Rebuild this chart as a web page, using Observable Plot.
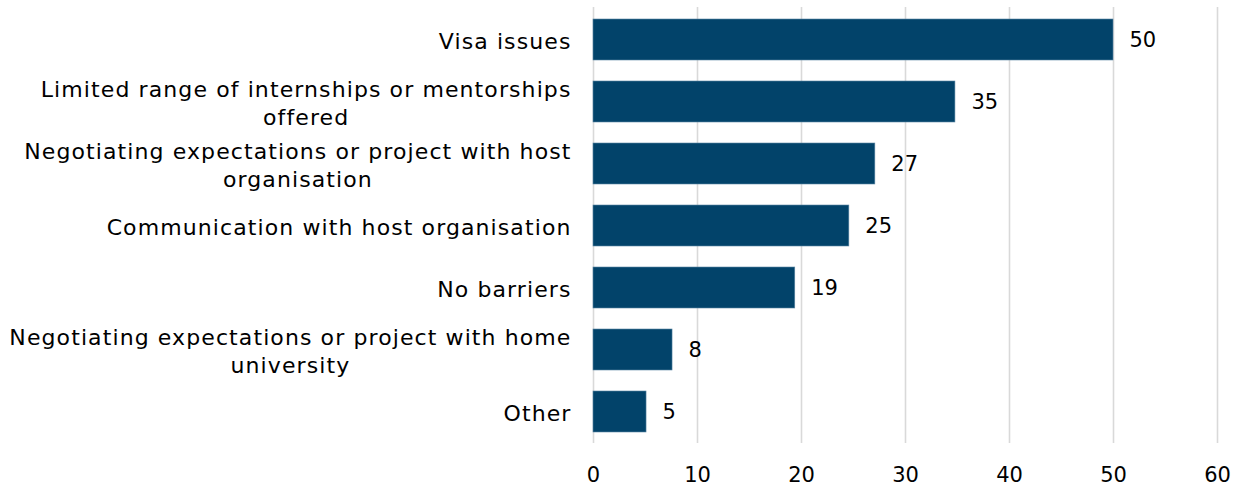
<!DOCTYPE html>
<html>
<head>
<meta charset="utf-8">
<script src="https://cdn.jsdelivr.net/npm/d3@7"></script>
<script src="https://cdn.jsdelivr.net/npm/@observablehq/plot@0.6"></script>
<style>
  html, body { margin: 0; padding: 0; background: #fff; }
  #chart { width: 1247px; height: 489px; }
  g[aria-label="y-axis tick label"] { letter-spacing: 1.1px; }
</style>
</head>
<body>
<div id="chart"></div>
<script>
const categories = [
  "Visa issues",
  "Limited range of internships or mentorships offered",
  "Negotiating expectations or project with host organisation",
  "Communication with host organisation",
  "No barriers",
  "Negotiating expectations or project with home university",
  "Other"
];
const categoryLabels = [
  "Visa issues",
  "Limited range of internships or mentorships\noffered",
  "Negotiating expectations or project with host\norganisation",
  "Communication with host organisation",
  "No barriers",
  "Negotiating expectations or project with home\nuniversity",
  "Other"
];
const values = [50, 34.8, 27.1, 24.6, 19.4, 7.6, 5.1];
const valueLabels = ["50", "35", "27", "25", "19", "8", "5"];
const xTicks = [0, 10, 20, 30, 40, 50, 60];

const data = categories.map((c, i) => ({name: c, value: values[i], label: valueLabels[i]}));
const labelOf = new Map(categories.map((c, i) => [c, categoryLabels[i]]));

const font = "'DejaVu Sans', Verdana, sans-serif";

const chart = Plot.plot({
  width: 1247,
  height: 489,
  marginLeft: 593,
  marginRight: 30,
  marginTop: 7,
  marginBottom: 46,
  style: {fontFamily: font, fontSize: "21px", color: "#000", background: "#fff"},
  x: {domain: [0, 60], ticks: xTicks},
  y: {domain: categories, paddingInner: 0.34, paddingOuter: 0.17},
  marks: [
    Plot.gridX(xTicks, {stroke: "#d9d9d9", strokeOpacity: 1, strokeWidth: 1.6}),
    Plot.barX(data, {x: "value", y: "name", fill: "#02436a", stroke: "#5b86a3", strokeWidth: 0.6}),
    Plot.text(data, {x: "value", y: "name", text: "label", textAnchor: "start", dx: 16, fill: "#000", fontSize: 21}),
    Plot.axisX({ticks: xTicks, tickSize: 0, tickPadding: 24, fontSize: 21, label: null}),
    Plot.axisY({tickSize: 0, tickPadding: 22, fontSize: 22, lineHeight: 1.27, label: null,
      tickFormat: d => labelOf.get(d)})
  ]
});
document.getElementById("chart").appendChild(chart);

// center multi-line labels within their right-aligned block
chart.querySelectorAll('g[aria-label="y-axis tick label"] text').forEach(t => {
  const spans = t.querySelectorAll("tspan");
  if (spans.length > 1) {
    const w = t.getBBox().width;
    t.setAttribute("text-anchor", "middle");
    spans.forEach(s => s.setAttribute("x", -w / 2));
  }
});
</script>
</body>
</html>
